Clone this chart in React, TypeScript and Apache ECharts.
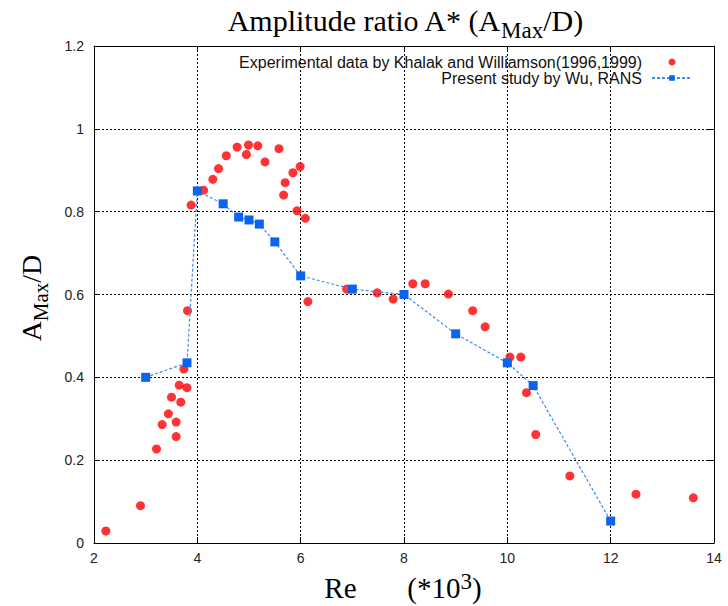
import React, { useEffect, useRef } from "react";
import * as echarts from "echarts";

const expX = [2.23, 2.9, 3.21, 3.32, 3.44, 3.5, 3.59, 3.59, 3.65, 3.68, 3.74, 3.8, 3.81, 3.88, 4.12, 4.3, 4.41, 4.56, 4.77, 4.95, 4.99, 5.17, 5.31, 5.58, 5.67, 5.7, 5.85, 5.93, 5.99, 6.09, 6.14, 6.89, 7.48, 7.79, 8.17, 8.41, 8.86, 9.33, 9.57, 10.05, 10.26, 10.37, 10.55, 11.21, 12.49, 13.6];
const expY = [0.029, 0.09, 0.227, 0.286, 0.312, 0.352, 0.257, 0.292, 0.381, 0.34, 0.42, 0.375, 0.561, 0.816, 0.852, 0.878, 0.904, 0.935, 0.956, 0.938, 0.961, 0.959, 0.92, 0.952, 0.84, 0.87, 0.894, 0.802, 0.909, 0.784, 0.583, 0.613, 0.604, 0.589, 0.626, 0.626, 0.601, 0.561, 0.522, 0.449, 0.449, 0.363, 0.262, 0.162, 0.118, 0.109];

const ransX = [3.0, 3.8, 4.0, 4.5, 4.8, 5.0, 5.2, 5.5, 6.0, 7.0, 8.0, 9.0, 10.0, 10.5, 12.0];
const ransY = [0.4, 0.435, 0.85, 0.819, 0.787, 0.78, 0.77, 0.727, 0.645, 0.613, 0.6, 0.505, 0.435, 0.38, 0.053];

const xTicks = { min: 2, max: 14, interval: 2 };
const yTicks = { min: 0, max: 1.2, interval: 0.2 };

const expName = "Experimental data by Khalak and Williamson(1996,1999)";
const ransName = "Present study by Wu, RANS";

export default function App() {
  const ref = useRef<HTMLDivElement>(null);
  useEffect(() => {
    if (!ref.current) return;
    const chart = echarts.init(ref.current, undefined, { renderer: "svg" });
    const serif = "Liberation Serif";
    const sans = "Liberation Sans";
    const gridLine = { show: true, lineStyle: { color: "#000", type: [2, 2] as any, width: 1 } };
    const axisCommon = {
      axisLine: { show: true, onZero: false, lineStyle: { color: "#000", width: 1 } },
      axisTick: { show: true, inside: true, length: 6, lineStyle: { color: "#000" } },
    };
    chart.setOption({
      animation: false,
      backgroundColor: "#fff",
      grid: { left: 94, right: 14, top: 46, bottom: 63, containLabel: false },
      graphic: [
        {
          type: "text",
          x: 405,
          y: 20,
          style: {
            text: "{a|Amplitude ratio A* (A}{s|Max}{a|/D)}",
            align: "center",
            verticalAlign: "middle",
            fill: "#000",
            rich: {
              a: { fontFamily: serif, fontSize: 30, lineHeight: 30, verticalAlign: "top", fill: "#000" },
              s: { fontFamily: serif, fontSize: 23, lineHeight: 23, padding: [14, 0, 0, 0], verticalAlign: "top", fill: "#000" },
            },
          },
        },
        {
          type: "text",
          x: 31,
          y: 298,
          rotation: Math.PI / 2,
          style: {
            text: "{a|A}{s|Max}{a|/D}",
            align: "center",
            verticalAlign: "middle",
            fill: "#000",
            rich: {
              a: { fontFamily: serif, fontSize: 28, lineHeight: 28, verticalAlign: "top", fill: "#000" },
              s: { fontFamily: serif, fontSize: 21, lineHeight: 21, padding: [13, 0, 0, 0], verticalAlign: "top", fill: "#000" },
            },
          },
        },
        {
          type: "text",
          x: 403,
          y: 584,
          style: {
            text: "{a|Re       (*10}{p|3}{a|)}",
            align: "center",
            verticalAlign: "middle",
            fill: "#000",
            rich: {
              a: { fontFamily: serif, fontSize: 29, lineHeight: 29, padding: [4, 0, 0, 0], verticalAlign: "top", fill: "#000" },
              p: { fontFamily: serif, fontSize: 23, lineHeight: 23, verticalAlign: "top", fill: "#000" },
            },
          },
        },
      ],
      legend: {
        orient: "vertical",
        right: 35,
        top: 54,
        padding: 0,
        align: "right",
        itemGap: 0,
        itemWidth: 40,
        itemHeight: 7,
        textStyle: { fontFamily: sans, fontSize: 16, lineHeight: 14.5, color: "#111", padding: [0, 5, 0, 0] },
        data: [
          { name: expName, icon: "circle", itemStyle: { color: "#ff0000" } },
          { name: ransName },
        ],
      },
      xAxis: [
        {
          type: "value",
          ...xTicks,
          position: "bottom",
          ...axisCommon,
          splitLine: gridLine,
          axisLabel: { fontFamily: sans, fontSize: 14, color: "#222", margin: 8 },
        },
        {
          type: "value",
          ...xTicks,
          position: "top",
          ...axisCommon,
          splitLine: { show: false },
          axisLabel: { show: false },
        },
      ],
      yAxis: [
        {
          type: "value",
          ...yTicks,
          position: "left",
          ...axisCommon,
          splitLine: gridLine,
          axisLabel: { fontFamily: sans, fontSize: 14, color: "#222", margin: 10 },
        },
        {
          type: "value",
          ...yTicks,
          position: "right",
          ...axisCommon,
          splitLine: { show: false },
          axisLabel: { show: false },
        },
      ],
      series: [
        {
          name: expName,
          type: "scatter",
          symbol: "circle",
          symbolSize: 9,
          itemStyle: { color: "#ff0000" },
          data: expX.map((x, i) => [x, expY[i]]),
          z: 3,
        },
        {
          name: ransName,
          type: "line",
          symbol: "rect",
          symbolSize: 9,
          showAllSymbol: true,
          itemStyle: { color: "#0a64f0" },
          lineStyle: { color: "#3d8af5", width: 1.2, type: [3, 2] },
          data: ransX.map((x, i) => [x, ransY[i]]),
          z: 4,
        },
      ],
    });
    return () => chart.dispose();
  }, []);
  return <div ref={ref} style={{ width: 728, height: 606, position: "absolute", left: 0, top: 0 }} />;
}
